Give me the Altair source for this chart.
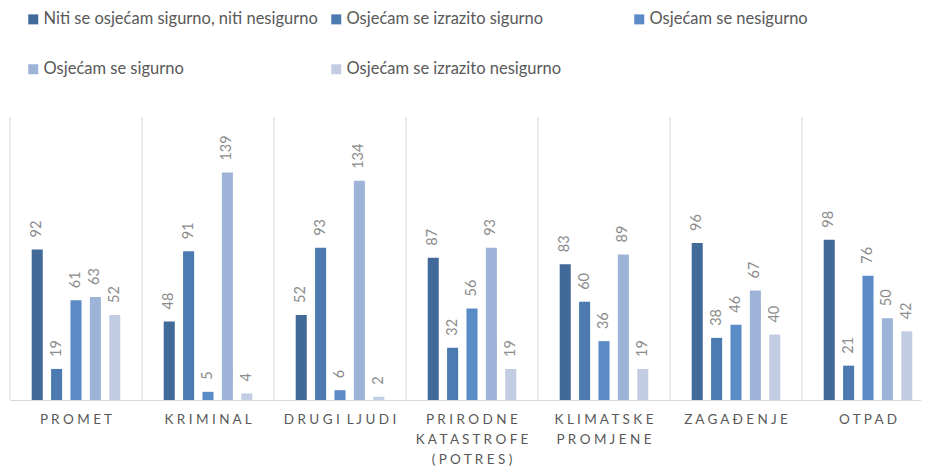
import altair as alt
import pandas as pd

categories = ["PROMET", "KRIMINAL", "DRUGI LJUDI", "PRIRODNE KATASTROFE (POTRES)",
              "KLIMATSKE PROMJENE", "ZAGAĐENJE", "OTPAD"]
category_lines = [["PROMET"], ["KRIMINAL"], ["DRUGI LJUDI"],
                  ["PRIRODNE", "KATASTROFE", "(POTRES)"],
                  ["KLIMATSKE", "PROMJENE"], ["ZAGAĐENJE"], ["OTPAD"]]

series = ["Niti se osjećam sigurno, niti nesigurno", "Osjećam se izrazito sigurno",
          "Osjećam se nesigurno", "Osjećam se sigurno", "Osjećam se izrazito nesigurno"]
colors = ["#416a99", "#4b7bb1", "#5a8bc6", "#9db3d7", "#c2cde3"]

v_niti = [92, 48, 52, 87, 83, 96, 98]
v_izr_sig = [19, 91, 93, 32, 60, 38, 21]
v_nesig = [61, 5, 6, 56, 36, 46, 76]
v_sig = [63, 139, 134, 93, 89, 67, 50]
v_izr_nesig = [52, 4, 2, 19, 19, 40, 42]
values = [v_niti, v_izr_sig, v_nesig, v_sig, v_izr_nesig]

NB = "\u00a0"


def spaced(line):
    return (NB * 2).join(NB.join(list(w)) for w in line.split(" "))


labels = ["|".join(spaced(l) for l in lines) for lines in category_lines]

rows = []
for s, vals in zip(series, values):
    for c, lab, v in zip(categories, labels, vals):
        rows.append({"category": c, "label": lab, "series": s, "value": v})
df = pd.DataFrame(rows)
cat_df = pd.DataFrame({"label": labels})

x_scale = alt.Scale(range=[0, 924], paddingInner=0, paddingOuter=0)
x_axis = alt.Axis(title=None, labelExpr="split(datum.label, '|')", ticks=False,
                  domain=True, domainColor="#d9d9d9", domainWidth=1, grid=False,
                  labelAngle=0, labelFont="Lato", labelFontSize=13.5, labelColor="#595959",
                  labelPadding=12, labelLineHeight=20, labelBaseline="top")
y_scale = alt.Scale(domain=[0, 173], nice=False, zero=True)
xo = alt.XOffset("series:N", sort=series,
                 scale=alt.Scale(range=[21.7, 110.3], paddingInner=0.43, paddingOuter=0))

seps = alt.Chart(cat_df).mark_rule(color="#d9d9d9", strokeWidth=1).encode(
    x=alt.X("label:N", sort=labels, bandPosition=0, scale=x_scale, axis=x_axis)
)

bars = alt.Chart(df).mark_bar().encode(
    x=alt.X("label:N", sort=labels, scale=x_scale, axis=x_axis),
    xOffset=xo,
    y=alt.Y("value:Q", scale=y_scale, axis=None),
    color=alt.Color("series:N", sort=series,
                    scale=alt.Scale(domain=series, range=colors),
                    legend=alt.Legend(title=None, orient="none", legendX=15, legendY=-106,
                                      columns=3, direction="horizontal", gridAlign="all",
                                      columnPadding=10, rowPadding=33, symbolType="square",
                                      symbolSize=100, symbolStrokeWidth=0, labelFont="Lato",
                                      labelFontSize=16.5, labelColor="#595959",
                                      labelOffset=2, padding=0, labelLimit=400)),
)

texts = alt.Chart(df).mark_text(angle=270, align="left", baseline="middle", dx=12,
                                font="Lato", fontSize=14.5, color="#8c8c8c").encode(
    x=alt.X("label:N", sort=labels, scale=x_scale, axis=x_axis),
    xOffset=xo,
    y=alt.Y("value:Q", scale=y_scale, axis=None),
    text=alt.Text("value:Q"),
)

chart = alt.layer(seps, bars, texts).properties(
    width=911, height=283,
    autosize=alt.AutoSizeParams(type="none"),
    padding={"left": 2, "top": 109, "right": 0, "bottom": 70},
).configure(background="white").configure_view(stroke=None)

chart.save("out.html", embed_options={"renderer": "svg", "actions": False})
